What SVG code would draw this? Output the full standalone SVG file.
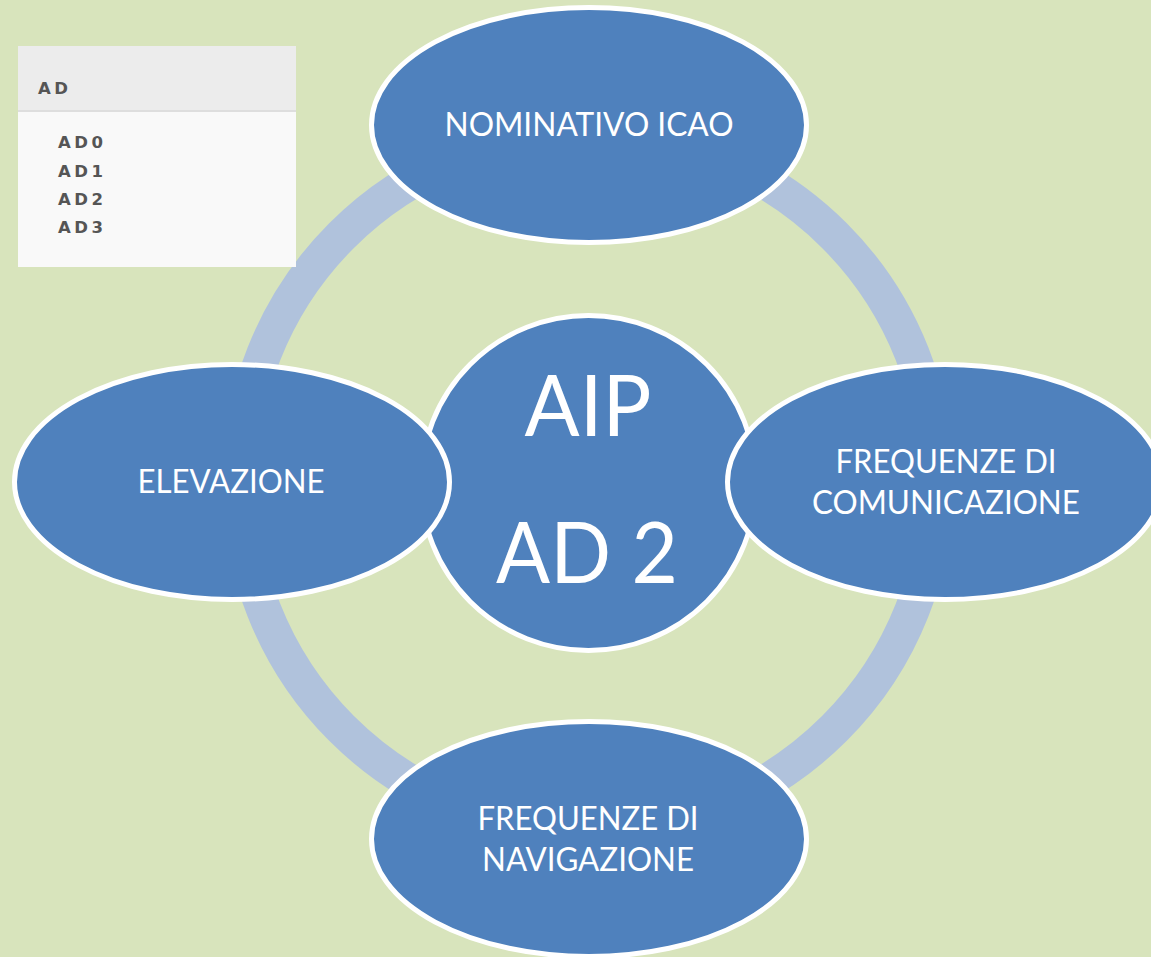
<svg xmlns="http://www.w3.org/2000/svg" width="1151" height="957" viewBox="0 0 1151 957">
<style>
.node{fill:#4f81bd;stroke:#ffffff;stroke-width:5}
.lbl{font-family:Lato,"Liberation Sans",sans-serif;fill:#ffffff;text-anchor:middle;font-size:33.5px}
.big{font-family:Lato,"Liberation Sans",sans-serif;fill:#ffffff;text-anchor:middle;font-size:85px}
.pan{font-family:"DejaVu Sans",Verdana,sans-serif;font-weight:bold;fill:#555555;font-size:16.5px;letter-spacing:3.5px}
</style>
<rect x="0" y="0" width="1151" height="957" fill="#d8e4bc"/>
<g id="connectors">
<circle cx="588" cy="482" r="348.5" fill="none" stroke="#b0c2dc" stroke-width="35"/>
</g>
<g id="panel">
<rect x="18" y="46" width="278" height="221" fill="#f9f9f9"/>
<rect x="18" y="46" width="278" height="64" fill="#ececec"/>
<rect x="18" y="110" width="278" height="2" fill="#dedede"/>
<text class="pan" x="38" y="94">AD</text>
<text class="pan" x="58" y="148">AD0</text>
<text class="pan" x="58" y="177">AD1</text>
<text class="pan" x="58" y="205">AD2</text>
<text class="pan" x="58" y="233">AD3</text>
</g>
<g id="center">
<circle class="node" cx="588.5" cy="483" r="167.5"/>
<text class="big" x="588" y="436" textLength="127" lengthAdjust="spacingAndGlyphs">AIP</text>
<text class="big" x="587" y="583" textLength="182" lengthAdjust="spacingAndGlyphs">AD 2</text>
</g>
<g id="top">
<ellipse class="node" cx="589" cy="125" rx="217.5" ry="117.5"/>
<text class="lbl" x="589" y="136" textLength="289" lengthAdjust="spacingAndGlyphs">NOMINATIVO ICAO</text>
</g>
<g id="left">
<ellipse class="node" cx="232" cy="482" rx="217.5" ry="117.5"/>
<text class="lbl" x="231" y="493" textLength="187" lengthAdjust="spacingAndGlyphs">ELEVAZIONE</text>
</g>
<g id="right">
<ellipse class="node" cx="945" cy="482" rx="217.5" ry="117.5"/>
<text class="lbl" x="946" y="473" textLength="221" lengthAdjust="spacingAndGlyphs">FREQUENZE DI</text>
<text class="lbl" x="946" y="514" textLength="268" lengthAdjust="spacingAndGlyphs">COMUNICAZIONE</text>
</g>
<g id="bottom">
<ellipse class="node" cx="589" cy="839" rx="217.5" ry="117.5"/>
<text class="lbl" x="588" y="830" textLength="221" lengthAdjust="spacingAndGlyphs">FREQUENZE DI</text>
<text class="lbl" x="588" y="871" textLength="212" lengthAdjust="spacingAndGlyphs">NAVIGAZIONE</text>
</g>
</svg>
